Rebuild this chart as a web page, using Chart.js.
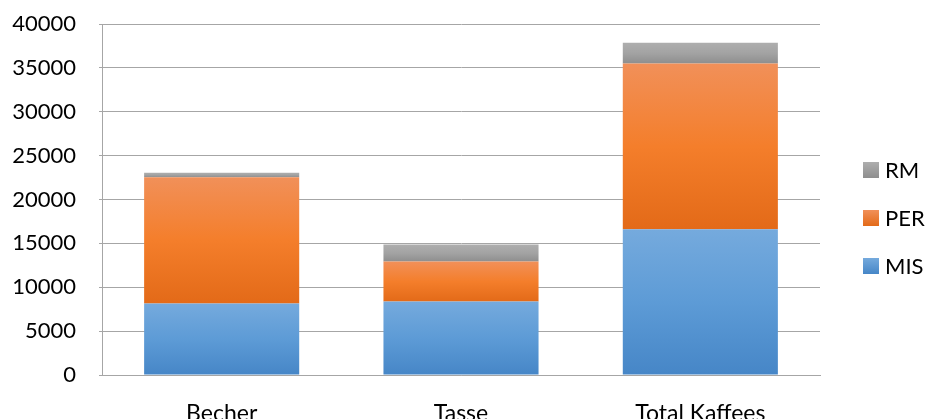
<!DOCTYPE html>
<html>
<head>
<meta charset="utf-8">
<script src="https://cdn.jsdelivr.net/npm/chart.js@4"></script>
<style>
  html, body { margin: 0; padding: 0; background: #fff; }
  #wrap { width: 927px; height: 419px; position: relative; }
</style>
</head>
<body>
<div id="wrap"><canvas id="kaffeeChart"></canvas></div>
<script>
// categories and stacked series
const categories = ["Becher", "Tasse", "Total Kaffees"];
const misValues = [8150, 8370, 16600];
const perValues = [14380, 4560, 18900];
const rmValues = [530, 1930, 2360];
const yTicks = [0, 5000, 10000, 15000, 20000, 25000, 30000, 35000, 40000];

// gradient colours per series: top, middle, bottom
const blueStops = ["#75aadd", "#5d9bd6", "#4686c7"];
const orangeStops = ["#f19059", "#f47e2b", "#e36a18"];
const greyStops = ["#aeaeae", "#a3a3a3", "#8e8e8e"];

const allSeries = [misValues, perValues, rmValues];

// makes a vertical gradient for one stacked segment
function segmentGradient(stops, seriesIndex) {
  return function(context) {
    const chart = context.chart;
    const y = chart.scales.y;
    if (context.type !== 'data' || !y || !chart.chartArea) return stops[1];
    const i = context.dataIndex;
    let base = 0;
    for (let s = 0; s < seriesIndex; s++) base += allSeries[s][i];
    const top = y.getPixelForValue(base + allSeries[seriesIndex][i]);
    const bottom = y.getPixelForValue(base);
    if (!isFinite(top) || !isFinite(bottom) || top === bottom) return stops[1];
    const g = chart.ctx.createLinearGradient(0, top, 0, bottom);
    g.addColorStop(0, stops[0]);
    g.addColorStop(0.5, stops[1]);
    g.addColorStop(1, stops[2]);
    return g;
  };
}

// legend on the right, drawn by hand so the plot keeps its width
const sideLegend = {
  id: 'sideLegend',
  afterDraw(chart) {
    const ctx = chart.ctx;
    const items = [
      {label: "RM", stops: greyStops, y: 170},
      {label: "PER", stops: orangeStops, y: 218},
      {label: "MIS", stops: blueStops, y: 266}
    ];
    ctx.save();
    ctx.font = "22px Lato";
    ctx.textBaseline = "middle";
    items.forEach(it => {
      const g = ctx.createLinearGradient(0, it.y - 8, 0, it.y + 8);
      g.addColorStop(0, it.stops[0]);
      g.addColorStop(1, it.stops[2]);
      ctx.fillStyle = g;
      ctx.fillRect(863, it.y - 8, 16, 16);
      ctx.fillStyle = "#000";
      ctx.fillText(it.label, 885, it.y + 1);
    });
    ctx.restore();
  }
};

const gridGrey = "#a6a6a6";

new Chart(document.getElementById("kaffeeChart"), {
  type: 'bar',
  data: {
    labels: categories,
    datasets: [
      {label: "MIS", data: misValues, backgroundColor: segmentGradient(blueStops, 0)},
      {label: "PER", data: perValues, backgroundColor: segmentGradient(orangeStops, 1)},
      {label: "RM", data: rmValues, backgroundColor: segmentGradient(greyStops, 2)}
    ]
  },
  options: {
    responsive: true,
    maintainAspectRatio: false,
    animation: false,
    layout: {padding: {top: 24, right: 107, left: 0, bottom: 0}},
    datasets: {bar: {barPercentage: 0.648, categoryPercentage: 1, borderWidth: 0}},
    plugins: {legend: {display: false}, tooltip: {enabled: false}},
    scales: {
      x: {
        stacked: true,
        grid: {display: false},
        border: {display: true, color: gridGrey, width: 1},
        ticks: {color: "#000", font: {family: "Lato", size: 23}, padding: 17},
        afterFit: s => { s.height = 44; s.paddingLeft = 0; s.paddingRight = 0; }
      },
      y: {
        stacked: true,
        min: 0,
        max: 40000,
        afterBuildTicks: s => { s.ticks = yTicks.map(v => ({value: v})); },
        grid: {color: gridGrey, lineWidth: 1, tickLength: 3},
        border: {display: true, color: gridGrey, width: 1},
        ticks: {color: "#000", font: {family: "Lato", size: 22}, padding: 23, callback: v => String(v)},
        afterFit: s => { s.width = 102; s.paddingTop = 0; s.paddingBottom = 0; }
      }
    }
  },
  plugins: [sideLegend]
});
</script>
</body>
</html>
